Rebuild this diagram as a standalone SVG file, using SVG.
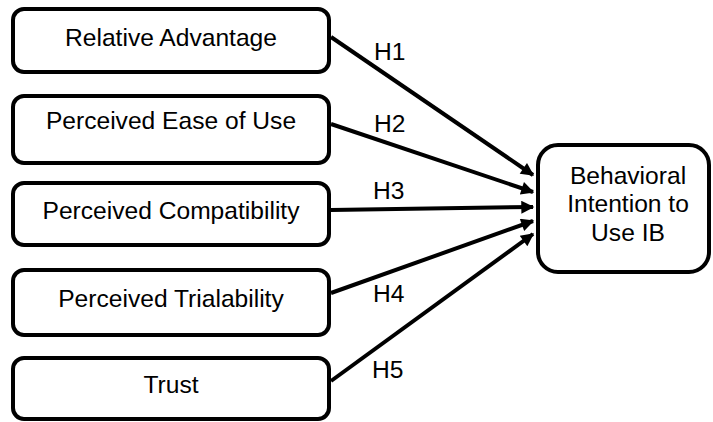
<svg xmlns="http://www.w3.org/2000/svg" width="713" height="422" viewBox="0 0 713 422">
<style>
.box{fill:#fff;stroke:#000;stroke-width:4}
.t{font-family:"Liberation Sans",Arial,sans-serif;font-size:24.6px;fill:#000;text-anchor:middle}
.lbl{font-family:"Liberation Sans",Arial,sans-serif;font-size:24.6px;fill:#000}
.c{stroke:#000;stroke-width:4;fill:none;marker-end:url(#ah)}
</style>
<defs>
<marker id="ah" viewBox="0 0 10 10" refX="9" refY="5" markerUnits="userSpaceOnUse" markerWidth="16" markerHeight="13" orient="auto">
<path d="M0,0 L10,5 L0,10 z" fill="#000"/>
</marker>
</defs>
<rect width="713" height="422" fill="#fff"/>
<g id="connectors">
<line class="c" x1="331" y1="37" x2="533" y2="175"/>
<line class="c" x1="331" y1="124" x2="533" y2="192"/>
<line class="c" x1="331" y1="210" x2="533" y2="207"/>
<line class="c" x1="331" y1="293" x2="533" y2="221"/>
<line class="c" x1="331" y1="381" x2="533" y2="234"/>
<text class="lbl" x="374" y="60">H1</text>
<text class="lbl" x="374" y="132">H2</text>
<text class="lbl" x="373" y="199">H3</text>
<text class="lbl" x="373" y="302">H4</text>
<text class="lbl" x="372" y="378">H5</text>
</g>
<g id="relative-advantage">
<rect class="box" x="13" y="9" width="316" height="63" rx="11"/>
<text class="t" x="171" y="46">Relative Advantage</text>
</g>
<g id="ease-of-use">
<rect class="box" x="13" y="96" width="316" height="67" rx="11"/>
<text class="t" x="171" y="129">Perceived Ease of Use</text>
</g>
<g id="compatibility">
<rect class="box" x="13" y="183" width="316" height="62" rx="11"/>
<text class="t" x="171" y="219">Perceived Compatibility</text>
</g>
<g id="trialability">
<rect class="box" x="13" y="270" width="316" height="65" rx="11"/>
<text class="t" x="171" y="307">Perceived Trialability</text>
</g>
<g id="trust">
<rect class="box" x="13" y="358" width="316" height="61" rx="11"/>
<text class="t" x="171" y="393">Trust</text>
</g>
<g id="behavioral-intention">
<rect class="box" x="538" y="145" width="171" height="127" rx="20"/>
<text class="t" x="628" y="184">Behavioral</text>
<text class="t" x="628" y="212">Intention to</text>
<text class="t" x="628" y="241">Use IB</text>
</g>
</svg>
